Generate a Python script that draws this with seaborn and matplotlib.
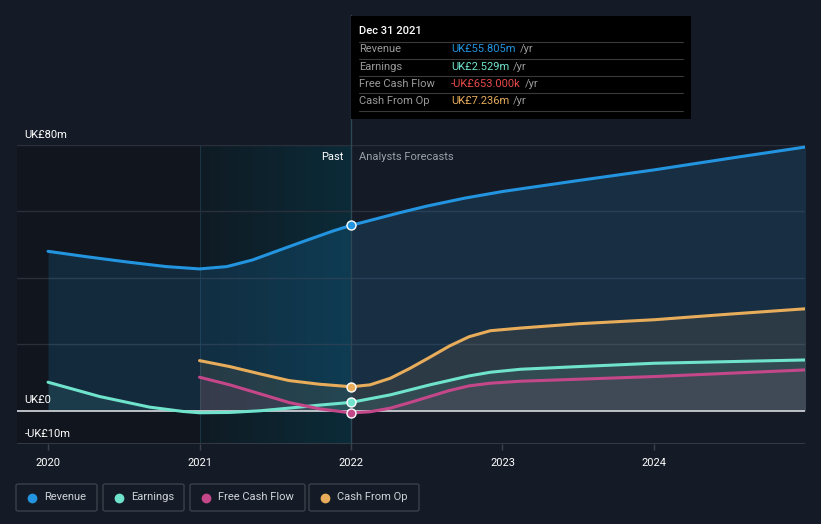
import numpy as np
import pandas as pd
import matplotlib
matplotlib.use("Agg")
import matplotlib.pyplot as plt
from matplotlib.patches import FancyBboxPatch, Rectangle
from matplotlib.lines import Line2D
from matplotlib.colors import LinearSegmentedColormap
import seaborn as sns

# ---------------- data (UK£ m) ----------------
rev_x = [2020.0, 2020.25, 2020.52, 2020.78, 2021.0, 2021.18, 2021.35, 2021.53, 2021.7, 2021.88, 2022.0,
         2022.32, 2022.5, 2022.75, 2023.0, 2023.5, 2024.0, 2024.5, 2025.0]
rev_y = [48.0, 46.4, 44.8, 43.4, 42.7, 43.4, 45.4, 48.4, 51.2, 54.1, 55.805,
         59.6, 61.6, 64.0, 66.0, 69.3, 72.5, 76.0, 79.4]

earn_x = [2020.0, 2020.34, 2020.67, 2020.89, 2021.0, 2021.2, 2021.4, 2021.59, 2021.79, 2022.0,
          2022.26, 2022.52, 2022.78, 2022.92, 2023.12, 2023.5, 2024.0, 2024.5, 2025.0]
earn_y = [8.6, 4.3, 1.1, -0.2, -0.6, -0.5, 0.0, 0.8, 1.7, 2.529,
          4.8, 7.8, 10.5, 11.6, 12.5, 13.3, 14.3, 14.8, 15.3]

fcf_x = [2021.0, 2021.2, 2021.4, 2021.59, 2021.79, 2022.0,
         2022.125, 2022.26, 2022.39, 2022.52, 2022.65, 2022.78, 2022.92, 2023.12,
         2023.5, 2024.0, 2024.5, 2025.0]
fcf_y = [10.1, 7.8, 5.1, 2.5, 0.6, -0.653,
         -0.3, 0.8, 2.5, 4.3, 6.1, 7.5, 8.3, 8.9,
         9.5, 10.3, 11.3, 12.3]

cfo_x = [2021.0, 2021.2, 2021.4, 2021.59, 2021.79, 2022.0,
         2022.125, 2022.26, 2022.39, 2022.52, 2022.65, 2022.78, 2022.92, 2023.12,
         2023.5, 2024.0, 2024.5, 2025.0]
cfo_y = [15.1, 13.3, 11.1, 9.1, 8.0, 7.236,
         7.8, 9.8, 12.8, 16.1, 19.5, 22.3, 24.1, 24.9,
         26.2, 27.4, 29.1, 30.7]

series_names = ["Revenue", "Earnings", "Free Cash Flow", "Cash From Op"]
series_colors = ["#2394df", "#6fe3cb", "#c4478a", "#e8ad5b"]
tooltip_values = ["UK£55.805m", "UK£2.529m", "-UK£653.000k", "UK£7.236m"]
tooltip_colors = ["#2394df", "#6fe3cb", "#e84a4a", "#e8ad5b"]
year_ticks = [2020, 2021, 2022, 2023, 2024]
y_labels = {80: "UK£80m", 0: "UK£0", -10: "-UK£10m"}

BG = "#151b26"
W, H = 821, 524

sns.set_theme(style="dark")
plt.rcParams["font.family"] = ["Roboto", "DejaVu Sans"]

fig = plt.figure(figsize=(W / 100, H / 100), dpi=100, facecolor=BG)
ax = fig.add_axes([17 / W, 80 / H, 788 / W, 299 / H])
ax.set_facecolor(BG)
x0, x1 = 2019.795, 2024.997
ax.set_xlim(x0, x1)
ax.set_ylim(-10, 80)
for s in ax.spines.values():
    s.set_visible(False)

# past region shading
ax.axvspan(x0, 2021.0, color="#11151d", zorder=0, lw=0)
grad = np.linspace(0, 1, 256).reshape(1, -1)
cmap = LinearSegmentedColormap.from_list("past", ["#0f1b24", "#0b2b38"])
ax.imshow(grad, extent=[2021.0, 2022.0, -10, 80], aspect="auto", cmap=cmap, zorder=0.5)
ax.plot([2021.0, 2021.0], [-10, 80], color="#1c3340", lw=0.8, zorder=0.6)

# gridlines
for g in [20, 40, 60, 80]:
    ax.axhline(g, color="#2a303b", lw=1, zorder=1)
ax.axhline(-10, color="#3b404b", lw=1.2, zorder=1)

# fills
ax.fill_between(rev_x, rev_y, 0, color="#2394df", alpha=0.16, lw=0, zorder=2)
ax.fill_between(cfo_x, cfo_y, 0, color="#e8ad5b", alpha=0.10, lw=0, zorder=2)
ax.fill_between(earn_x, earn_y, 0, color="#6fe3cb", alpha=0.10, lw=0, zorder=2)
ax.fill_between(fcf_x, fcf_y, 0, color="#c4478a", alpha=0.10, lw=0, zorder=2)

ax.axhline(0, color="#c9ccd1", lw=1.3, zorder=3)

# lines via seaborn
data = [(rev_x, rev_y), (earn_x, earn_y), (fcf_x, fcf_y), (cfo_x, cfo_y)]
for (xs, ys), name, col in zip(data, series_names, series_colors):
    df = pd.DataFrame({"x": xs, "y": ys})
    sns.lineplot(data=df, x="x", y="y", ax=ax, color=col, lw=2.2, zorder=4,
                 estimator=None, sort=True)
for ln in ax.lines:
    ln.set_solid_joinstyle("round")
    ln.set_solid_capstyle("round")

# vertical divider at 2022 extending to tooltip
ax.plot([2022.0, 2022.0], [-10, 119.1], color="#2d4654", lw=1, zorder=3.5, clip_on=False)

# markers at 2022
for (xs, ys), col in zip(data, series_colors):
    i = xs.index(2022.0)
    ax.scatter([xs[i]], [ys[i]], s=42, color=col, edgecolor="white", linewidth=1, zorder=6)

ax.set_xlabel("")
ax.set_ylabel("")
ax.set_yticks([])
ax.set_xticks(year_ticks)
ax.set_xticklabels([str(t) for t in year_ticks], color="white", fontsize=8)
ax.tick_params(axis="x", colors="#3b404b", length=4, width=1, pad=6, labelcolor="white",
               bottom=True)

# y labels
for v, lab in y_labels.items():
    ax.text(2019.845, v + 1.6, lab, color="white", fontsize=8, va="bottom", ha="left", zorder=7)

ax.text(2021.95, 76.5, "Past", color="white", fontsize=8, ha="right", va="center")
ax.text(2022.05, 76.5, "Analysts Forecasts", color="#9aa0a8", fontsize=8, ha="left", va="center")

# tooltip
def fx(px):
    return px / W

def fy(py):
    return 1 - py / H

fig.patches.append(Rectangle((fx(351), fy(119)), (691 - 351) / W, (119 - 16) / H,
                             transform=fig.transFigure, facecolor="#000000", edgecolor="none", zorder=10))
fig.text(fx(359), fy(31), "Dec 31 2021", color="white", fontsize=8, va="center", ha="left", zorder=11,
         fontweight="medium")
for ly in [41.5, 58.5, 76, 93, 110.5]:
    fig.lines.append(Line2D([fx(359), fx(683)], [fy(ly), fy(ly)], transform=fig.transFigure,
                            color="#3a3a3a", lw=0.8, zorder=11))
row_y = [49.5, 66.5, 84, 101]
for ry, name, val, vc in zip(row_y, series_names, tooltip_values, tooltip_colors):
    fig.text(fx(359), fy(ry), name, color="#9a9a9a", fontsize=8, va="center", ha="left", zorder=11)
    t = fig.text(fx(451), fy(ry), val, color=vc, fontsize=8, va="center", ha="left", zorder=11)
    fig.canvas.draw()
    bb = t.get_window_extent()
    fig.text(bb.x1 / W + 4 / W, fy(ry), "/yr", color="#9a9a9a", fontsize=8, va="center", ha="left", zorder=11)

# legend boxes
boxes = [(16, 97), (103, 184), (190, 305), (309, 419)]
for (bx0, bx1), name, col in zip(boxes, series_names, series_colors):
    fig.patches.append(FancyBboxPatch((fx(bx0), fy(511)), (bx1 - bx0) / W, 27 / H,
                                      boxstyle="round,pad=0,rounding_size=0.003",
                                      transform=fig.transFigure, facecolor=BG,
                                      edgecolor="#3b404b", lw=1, zorder=10))
    fig.lines.append(Line2D([fx(bx0 + 16)], [fy(497.5)], transform=fig.transFigure, marker="o",
                            markersize=6, color=col, lw=0, zorder=11))
    fig.text(fx(bx0 + 28), fy(497.5), name, color="#d0d3d8", fontsize=8, va="center", ha="left", zorder=11)

fig.savefig("out.png", dpi=100, facecolor=BG)
